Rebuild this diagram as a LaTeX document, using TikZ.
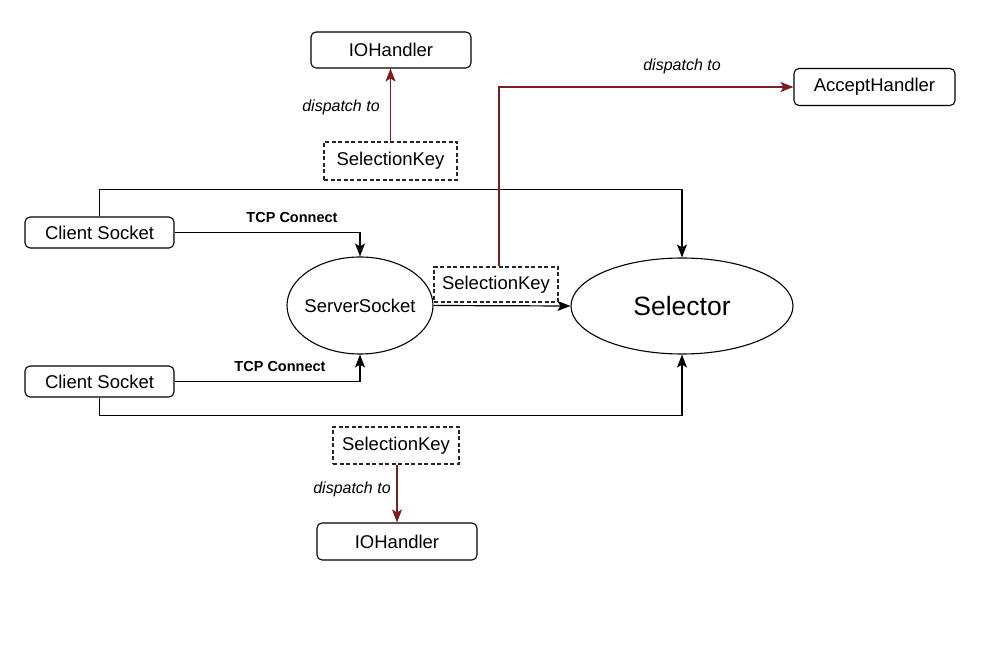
\documentclass[tikz,border=0pt]{standalone}
\usepackage{fontspec}
\setmainfont{Liberation Sans}
\usetikzlibrary{arrows.meta,shapes.geometric}
\definecolor{dred}{RGB}{125,30,30}
\tikzset{
  box/.style={draw, rounded corners=5pt, line width=1.1pt, font=\fontsize{18.5}{20}\selectfont, inner sep=0pt},
  keybox/.style={draw=black!85, dash pattern=on 4pt off 2.5pt, line width=1.2pt, font=\fontsize{18.5}{20}\selectfont, inner sep=0pt, fill=white},
  ell/.style={draw, ellipse, line width=1.1pt, inner sep=0pt},
  conn/.style={line width=1.2pt, -{Stealth[length=13pt,width=10pt,inset=3pt]}},
  rconn/.style={conn, draw=dred},
  lbl/.style={font=\fontsize{16}{18}\selectfont\itshape},
  tcp/.style={font=\fontsize{14.5}{16}\selectfont\bfseries}
}
\begin{document}
\begin{tikzpicture}[x=1pt,y=-1pt]
\useasboundingbox[fill=white] (0,0) rectangle (997,660);
\node[box, minimum width=160pt, minimum height=36pt] (ioh1) at (391,50) {IOHandler};
\node[keybox, minimum width=133pt, minimum height=38pt] (skt) at (390.5,161) {SelectionKey};
\node[box, minimum width=161pt, minimum height=37pt] (acc) at (874.5,87) {AcceptHandler};
\node[box, minimum width=149pt, minimum height=31pt] (cs1) at (99.5,232.5) {Client Socket};
\node[box, minimum width=149pt, minimum height=31pt] (cs2) at (99.5,381.5) {Client Socket};
\node[ell, minimum width=146pt, minimum height=97pt] (ss) at (360,305.5) {};
\node[font=\fontsize{18.5}{20}\selectfont] (sst) at (ss.center) {ServerSocket};
\node[ell, minimum width=222pt, minimum height=96pt] (sel) at (682,306) {};
\node[font=\fontsize{26.5}{28}\selectfont] (selt) at (sel.center) {Selector};
\node[box, minimum width=160pt, minimum height=37pt] (ioh2) at (397,541.5) {IOHandler};

% black connectors
\draw[conn] (cs1.north) -- ++(0,-27) -| (sel.north);
\draw[conn] (cs2.south) -- ++(0,18) -| (sel.south);
\draw[conn] (cs1.east) -| (ss.north);
\draw[conn] (cs2.east) -| (ss.south);
\draw[conn] (ss.east) -- (sel.west);
\node[keybox, minimum width=124pt, minimum height=35pt] (skm) at (496,284.5) {SelectionKey};
\node[keybox, minimum width=126pt, minimum height=37pt] (skb) at (396,445.5) {SelectionKey};

% red dispatch connectors
\draw[rconn] (skt.north) -- (skt.north |- ioh1.south);
\draw[rconn] ([xshift=3pt]skm.north) |- (acc.west);
\draw[rconn] ([xshift=1pt]skb.south) -- ([xshift=1pt]skb.south |- ioh2.north);

% labels
\node[lbl] (l1) at (341,107) {dispatch to};
\node[lbl] (l2) at (682,66) {dispatch to};
\node[lbl] (l3) at (352,489) {dispatch to};
\node[tcp] (t1) at (292,218) {TCP Connect};
\node[tcp] (t2) at (280,367) {TCP Connect};
\end{tikzpicture}
\end{document}
